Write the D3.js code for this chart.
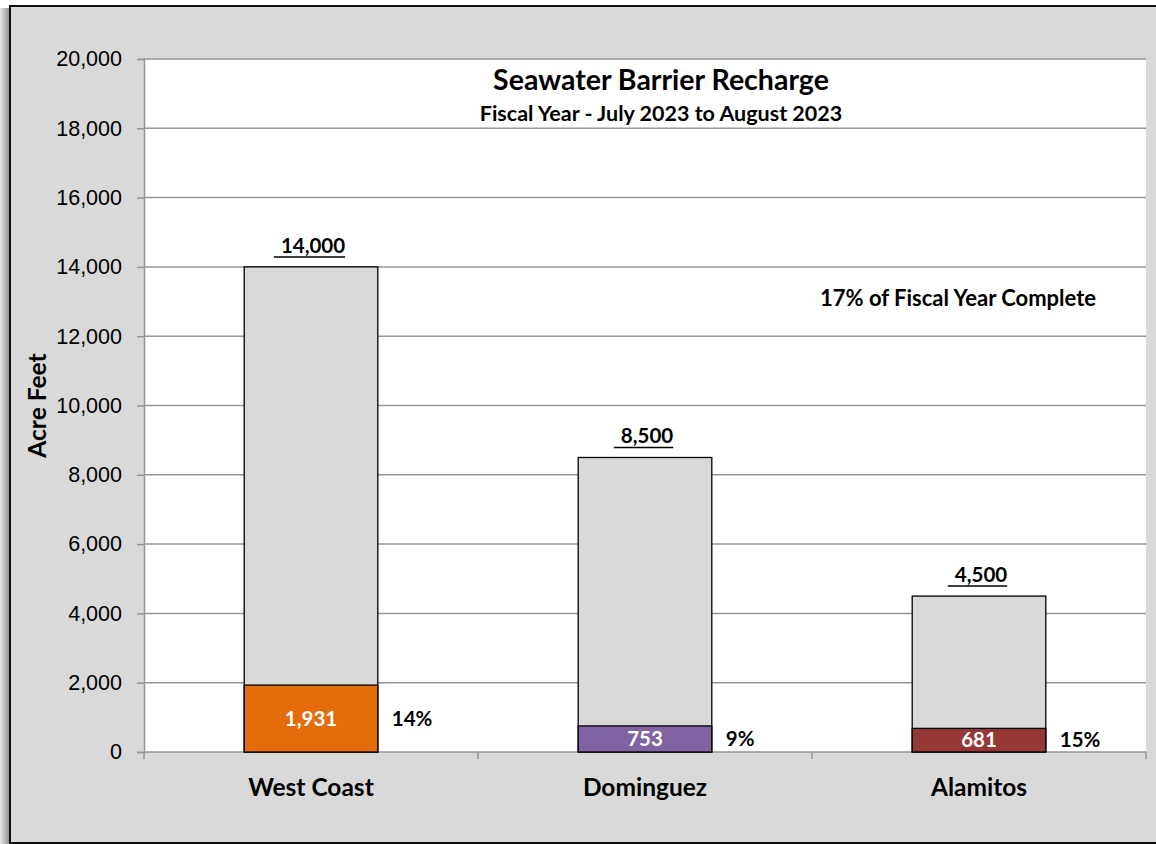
<!DOCTYPE html>
<html>
<head>
<meta charset="utf-8">
<script src="https://cdn.jsdelivr.net/npm/d3@7"></script>
<style>
  html, body { margin: 0; padding: 0; background: #fff; }
  svg { display: block; font-family: Lato, "Open Sans", sans-serif; }
</style>
</head>
<body>
<script>
// Seawater barrier recharge, fiscal year to date
const barriers = ['West Coast', 'Dominguez', 'Alamitos'];
const planned = [14000, 8500, 4500];
const delivered = [1931, 753, 681];
const percentDone = ['14%', '9%', '15%'];
const barColors = ['#e46c0a', '#8064a2', '#953735'];
const yTicks = [0, 2000, 4000, 6000, 8000, 10000, 12000, 14000, 16000, 18000, 20000];

const width = 1156, height = 844;
const margin = {top: 59, right: 10, bottom: 92, left: 144};

const svg = d3.select("body").append("svg")
    .attr("width", width)
    .attr("height", height);

// outer shadow + frame
const defs = svg.append("defs");
const grad = defs.append("linearGradient").attr("id", "shadow");
grad.append("stop").attr("offset", "0%").attr("stop-color", "#e6e6e6");
grad.append("stop").attr("offset", "100%").attr("stop-color", "#8c8c8c");
svg.append("rect").attr("x", 0).attr("y", 8).attr("width", 10).attr("height", height)
    .attr("fill", "url(#shadow)");
svg.append("rect")
    .attr("x", 10).attr("y", 6).attr("width", width).attr("height", 837)
    .attr("fill", "#d9d9d9")
    .attr("stroke", "#111").attr("stroke-width", 2);

const x = d3.scaleBand()
    .domain(barriers)
    .range([margin.left, width - margin.right])
    .paddingInner(0.6).paddingOuter(0.3);

const band = d3.scaleBand()
    .domain(barriers)
    .range([margin.left, width - margin.right]);

const y = d3.scaleLinear()
    .domain([0, 20000])
    .range([height - margin.bottom, margin.top]);

// plot area
svg.append("rect")
    .attr("x", margin.left).attr("y", margin.top)
    .attr("width", width - margin.right - margin.left)
    .attr("height", y(0) - margin.top)
    .attr("fill", "#fff");

// grid
svg.append("g")
    .selectAll("line")
    .data(yTicks.slice(1))
    .join("line")
    .attr("x1", margin.left).attr("x2", width - margin.right)
    .attr("y1", d => y(d)).attr("y2", d => y(d))
    .attr("stroke", "#969696").attr("stroke-width", 1.5);

// y axis
const yAxis = svg.append("g")
    .attr("transform", `translate(${margin.left},0)`)
    .call(d3.axisLeft(y).tickValues(yTicks).tickFormat(d3.format(",")).tickSize(7).tickPadding(15));
yAxis.select(".domain").attr("stroke", "#969696").attr("stroke-width", 1.5);
yAxis.selectAll(".tick line").attr("stroke", "#969696").attr("stroke-width", 1.5);
yAxis.selectAll("text").attr("font-size", 21.5).attr("fill", "#000");

// x axis: ticks between categories
const xAxisG = svg.append("g");
xAxisG.append("line")
    .attr("x1", margin.left).attr("x2", width - margin.right)
    .attr("y1", y(0)).attr("y2", y(0))
    .attr("stroke", "#969696").attr("stroke-width", 1.5);
const edges = barriers.map(b => band(b)).concat([band(barriers[2]) + band.bandwidth()]);
xAxisG.selectAll("line.tk")
    .data(edges)
    .join("line").attr("class", "tk")
    .attr("x1", d => d).attr("x2", d => d)
    .attr("y1", y(0)).attr("y2", y(0) + 7)
    .attr("stroke", "#969696").attr("stroke-width", 1.5);
xAxisG.selectAll("text")
    .data(barriers)
    .join("text")
    .attr("x", d => band(d) + band.bandwidth() / 2)
    .attr("y", y(0) + 35)
    .attr("dy", "0.35em")
    .attr("text-anchor", "middle")
    .attr("font-size", 24.5).attr("font-weight", "bold")
    .text(d => d);

// planned bars (gray)
svg.append("g")
    .selectAll("rect")
    .data(barriers)
    .join("rect")
    .attr("x", d => x(d))
    .attr("y", (d, i) => y(planned[i]))
    .attr("width", x.bandwidth())
    .attr("height", (d, i) => y(0) - y(planned[i]))
    .attr("fill", "#d9d9d9").attr("stroke", "#000").attr("stroke-width", 1.3);

// delivered bars
svg.append("g")
    .selectAll("rect")
    .data(barriers)
    .join("rect")
    .attr("x", d => x(d))
    .attr("y", (d, i) => y(delivered[i]))
    .attr("width", x.bandwidth())
    .attr("height", (d, i) => y(0) - y(delivered[i]))
    .attr("fill", (d, i) => barColors[i]).attr("stroke", "#000").attr("stroke-width", 1.3);

// delivered labels
svg.append("g")
    .selectAll("text")
    .data(barriers)
    .join("text")
    .attr("x", d => x(d) + x.bandwidth() / 2)
    .attr("y", (d, i) => (y(delivered[i]) + y(0)) / 2)
    .attr("dy", "0.35em")
    .attr("text-anchor", "middle")
    .attr("font-size", 20.5).attr("font-weight", "bold").attr("fill", "#fff")
    .text((d, i) => d3.format(",")(delivered[i]));

// percent labels
svg.append("g")
    .selectAll("text")
    .data(barriers)
    .join("text")
    .attr("x", d => x(d) + x.bandwidth() + 14)
    .attr("y", (d, i) => (y(delivered[i]) + y(0)) / 2)
    .attr("dy", "0.35em")
    .attr("font-size", 20.5).attr("font-weight", "bold")
    .text((d, i) => percentDone[i]);

// planned totals, underlined
const totals = svg.append("g")
    .selectAll("g")
    .data(barriers)
    .join("g");
totals.append("text")
    .attr("x", d => x(d) + x.bandwidth() / 2 + 2)
    .attr("y", (d, i) => y(planned[i]) - 14)
    .attr("text-anchor", "middle")
    .attr("font-size", 20.5).attr("font-weight", "bold")
    .text((d, i) => d3.format(",")(planned[i]));
totals.each(function () {
    const t = d3.select(this).select("text");
    const w = t.node().getComputedTextLength();
    const cx = +t.attr("x"), ty = +t.attr("y");
    d3.select(this).append("line")
        .attr("x1", cx - w / 2 - 7).attr("x2", cx + w / 2)
        .attr("y1", ty + 4).attr("y2", ty + 4)
        .attr("stroke", "#000").attr("stroke-width", 1.5);
});

// titles
svg.append("text")
    .attr("x", 661).attr("y", 90)
    .attr("text-anchor", "middle")
    .attr("font-size", 28.5).attr("font-weight", "bold")
    .text("Seawater Barrier Recharge");
svg.append("text")
    .attr("x", 661).attr("y", 121)
    .attr("text-anchor", "middle")
    .attr("font-size", 21.5).attr("font-weight", "bold")
    .text("Fiscal Year - July 2023 to August 2023");

svg.append("text")
    .attr("x", 820).attr("y", 298)
    .attr("dy", "0.35em")
    .attr("font-size", 22).attr("font-weight", "bold")
    .text("17% of Fiscal Year Complete");

svg.append("text")
    .attr("transform", `translate(37,${(y(0) + margin.top) / 2}) rotate(-90)`)
    .attr("text-anchor", "middle")
    .attr("dy", "0.35em")
    .attr("font-size", 24.5).attr("font-weight", "bold")
    .text("Acre Feet");
</script>
</body>
</html>
